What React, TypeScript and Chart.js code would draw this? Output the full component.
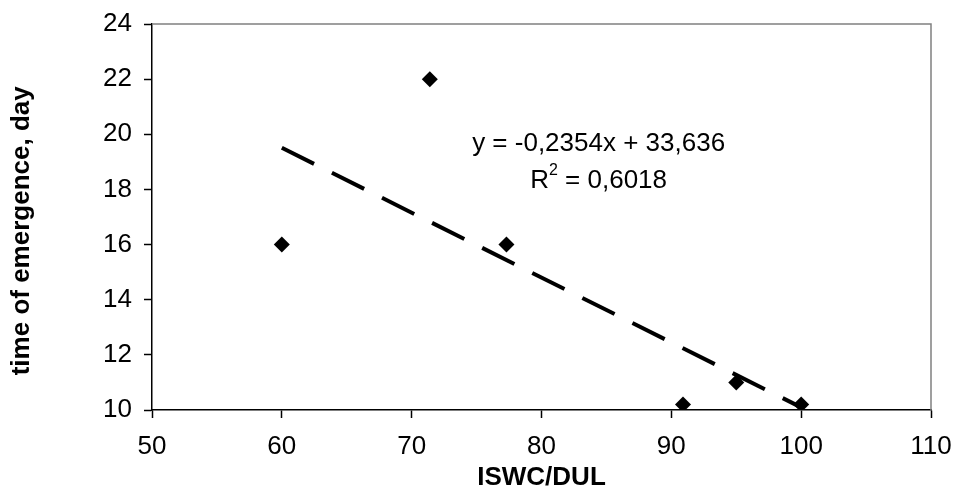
import React, { useEffect, useRef } from "react";
import { Chart, registerables } from "chart.js";

Chart.register(...registerables);

const xValues = [60, 71.4, 77.3, 90.9, 95, 100];
const yValues = [16, 22, 16, 10.2, 11, 10.2];
const trendSlope = -0.2354;
const trendIntercept = 33.636;
const trendRange = [60, 100];
const equationText = "y = -0,2354x + 33,636";
const r2Value = "0,6018";
const xTitle = "ISWC/DUL";
const yTitle = "time of emergence, day";

const FONT = "'Liberation Sans', Arial, sans-serif";
const FS = 26;

const annotationPlugin = {
  id: "annot",
  beforeDatasetsDraw(chart: any) {
    const { ctx, chartArea } = chart;
    ctx.save();
    ctx.strokeStyle = "#808080";
    ctx.lineWidth = 1.5;
    ctx.beginPath();
    ctx.moveTo(chartArea.left, chartArea.top);
    ctx.lineTo(chartArea.right, chartArea.top);
    ctx.lineTo(chartArea.right, chartArea.bottom);
    ctx.stroke();
    ctx.restore();
  },
  afterDatasetsDraw(chart: any) {
    const { ctx, scales } = chart;
    const cx = scales.x.getPixelForValue(84.4);
    const y1 = scales.y.getPixelForValue(19.66);
    const y2 = scales.y.getPixelForValue(18.32);
    ctx.save();
    ctx.fillStyle = "#000";
    ctx.font = `${FS}px ${FONT}`;
    ctx.textAlign = "center";
    ctx.textBaseline = "middle";
    ctx.fillText(equationText, cx, y1);
    const a = "R";
    const b = " = " + r2Value;
    ctx.font = `${FS}px ${FONT}`;
    const wa = ctx.measureText(a).width;
    const wb = ctx.measureText(b).width;
    ctx.font = `16px ${FONT}`;
    const ws = ctx.measureText("2").width;
    const total = wa + ws + wb;
    let x = cx - total / 2;
    ctx.textAlign = "left";
    ctx.font = `${FS}px ${FONT}`;
    ctx.fillText(a, x, y2);
    x += wa;
    ctx.font = `16px ${FONT}`;
    ctx.fillText("2", x, y2 - 10);
    x += ws;
    ctx.font = `${FS}px ${FONT}`;
    ctx.fillText(b, x, y2);
    // y axis title (slightly below plot centre, as in the original)
    const ty = scales.y.getPixelForValue(16.5);
    ctx.translate(22, ty);
    ctx.rotate(-Math.PI / 2);
    ctx.textAlign = "center";
    ctx.font = `bold ${FS}px ${FONT}`;
    ctx.fillText(yTitle, 0, 0);
    ctx.restore();
  },
};

export default function App() {
  const ref = useRef<HTMLCanvasElement | null>(null);
  useEffect(() => {
    document.body.style.margin = "0";
    const canvas = ref.current!;
    const points = xValues.map((x, i) => ({ x, y: yValues[i] }));
    const trend = trendRange.map((x) => ({ x, y: trendSlope * x + trendIntercept }));
    const chart = new Chart(canvas, {
      type: "scatter",
      data: {
        datasets: [
          {
            type: "line",
            data: trend,
            borderColor: "#000",
            borderWidth: 4,
            borderDash: [36, 20],
            borderCapStyle: "butt",
            pointRadius: 0,
            fill: false,
            order: 2,
          } as any,
          {
            data: points,
            pointStyle: "rectRot",
            pointRadius: 8,
            pointHoverRadius: 8,
            backgroundColor: "#000",
            borderColor: "#000",
            borderWidth: 0,
            order: 1,
          },
        ],
      },
      options: {
        animation: false,
        responsive: false,
        maintainAspectRatio: false,
        events: [],
        layout: { padding: { left: 0, top: 24, right: 22, bottom: 0 } },
        plugins: { legend: { display: false }, tooltip: { enabled: false } },
        scales: {
          x: {
            type: "linear",
            min: 50,
            max: 110,
            afterFit: (s: any) => {
              s.height = 77;
              s.paddingLeft = 0;
              s.paddingRight = 0;
            },
            ticks: {
              stepSize: 10,
              color: "#000",
              padding: 13,
              maxRotation: 0,
              font: { family: FONT, size: FS },
            },
            grid: {
              drawOnChartArea: false,
              drawTicks: true,
              tickLength: 8,
              tickColor: "#000",
              tickWidth: 1.5,
            },
            border: { display: true, color: "#000", width: 1.5 },
            title: {
              display: true,
              text: xTitle,
              color: "#000",
              font: { family: FONT, size: FS, weight: "bold", lineHeight: 0.7 },
              padding: { top: 0, bottom: 0 },
            },
          },
          y: {
            type: "linear",
            min: 10,
            max: 24,
            afterFit: (s: any) => {
              s.width = 152;
              s.paddingTop = 0;
              s.paddingBottom = 0;
            },
            ticks: {
              stepSize: 2,
              color: "#000",
              padding: 12,
              font: { family: FONT, size: FS },
            },
            grid: {
              drawOnChartArea: false,
              drawTicks: true,
              tickLength: 8,
              tickColor: "#000",
              tickWidth: 1.5,
            },
            border: { display: true, color: "#000", width: 1.5 },
            title: { display: false },
          },
        },
      },
      plugins: [annotationPlugin],
    });
    return () => chart.destroy();
  }, []);
  return (
    <div style={{ position: "absolute", left: 0, top: 0, width: 953, height: 487, background: "#fff" }}>
      <canvas ref={ref} width={953} height={487} style={{ width: 953, height: 487 }} />
    </div>
  );
}
